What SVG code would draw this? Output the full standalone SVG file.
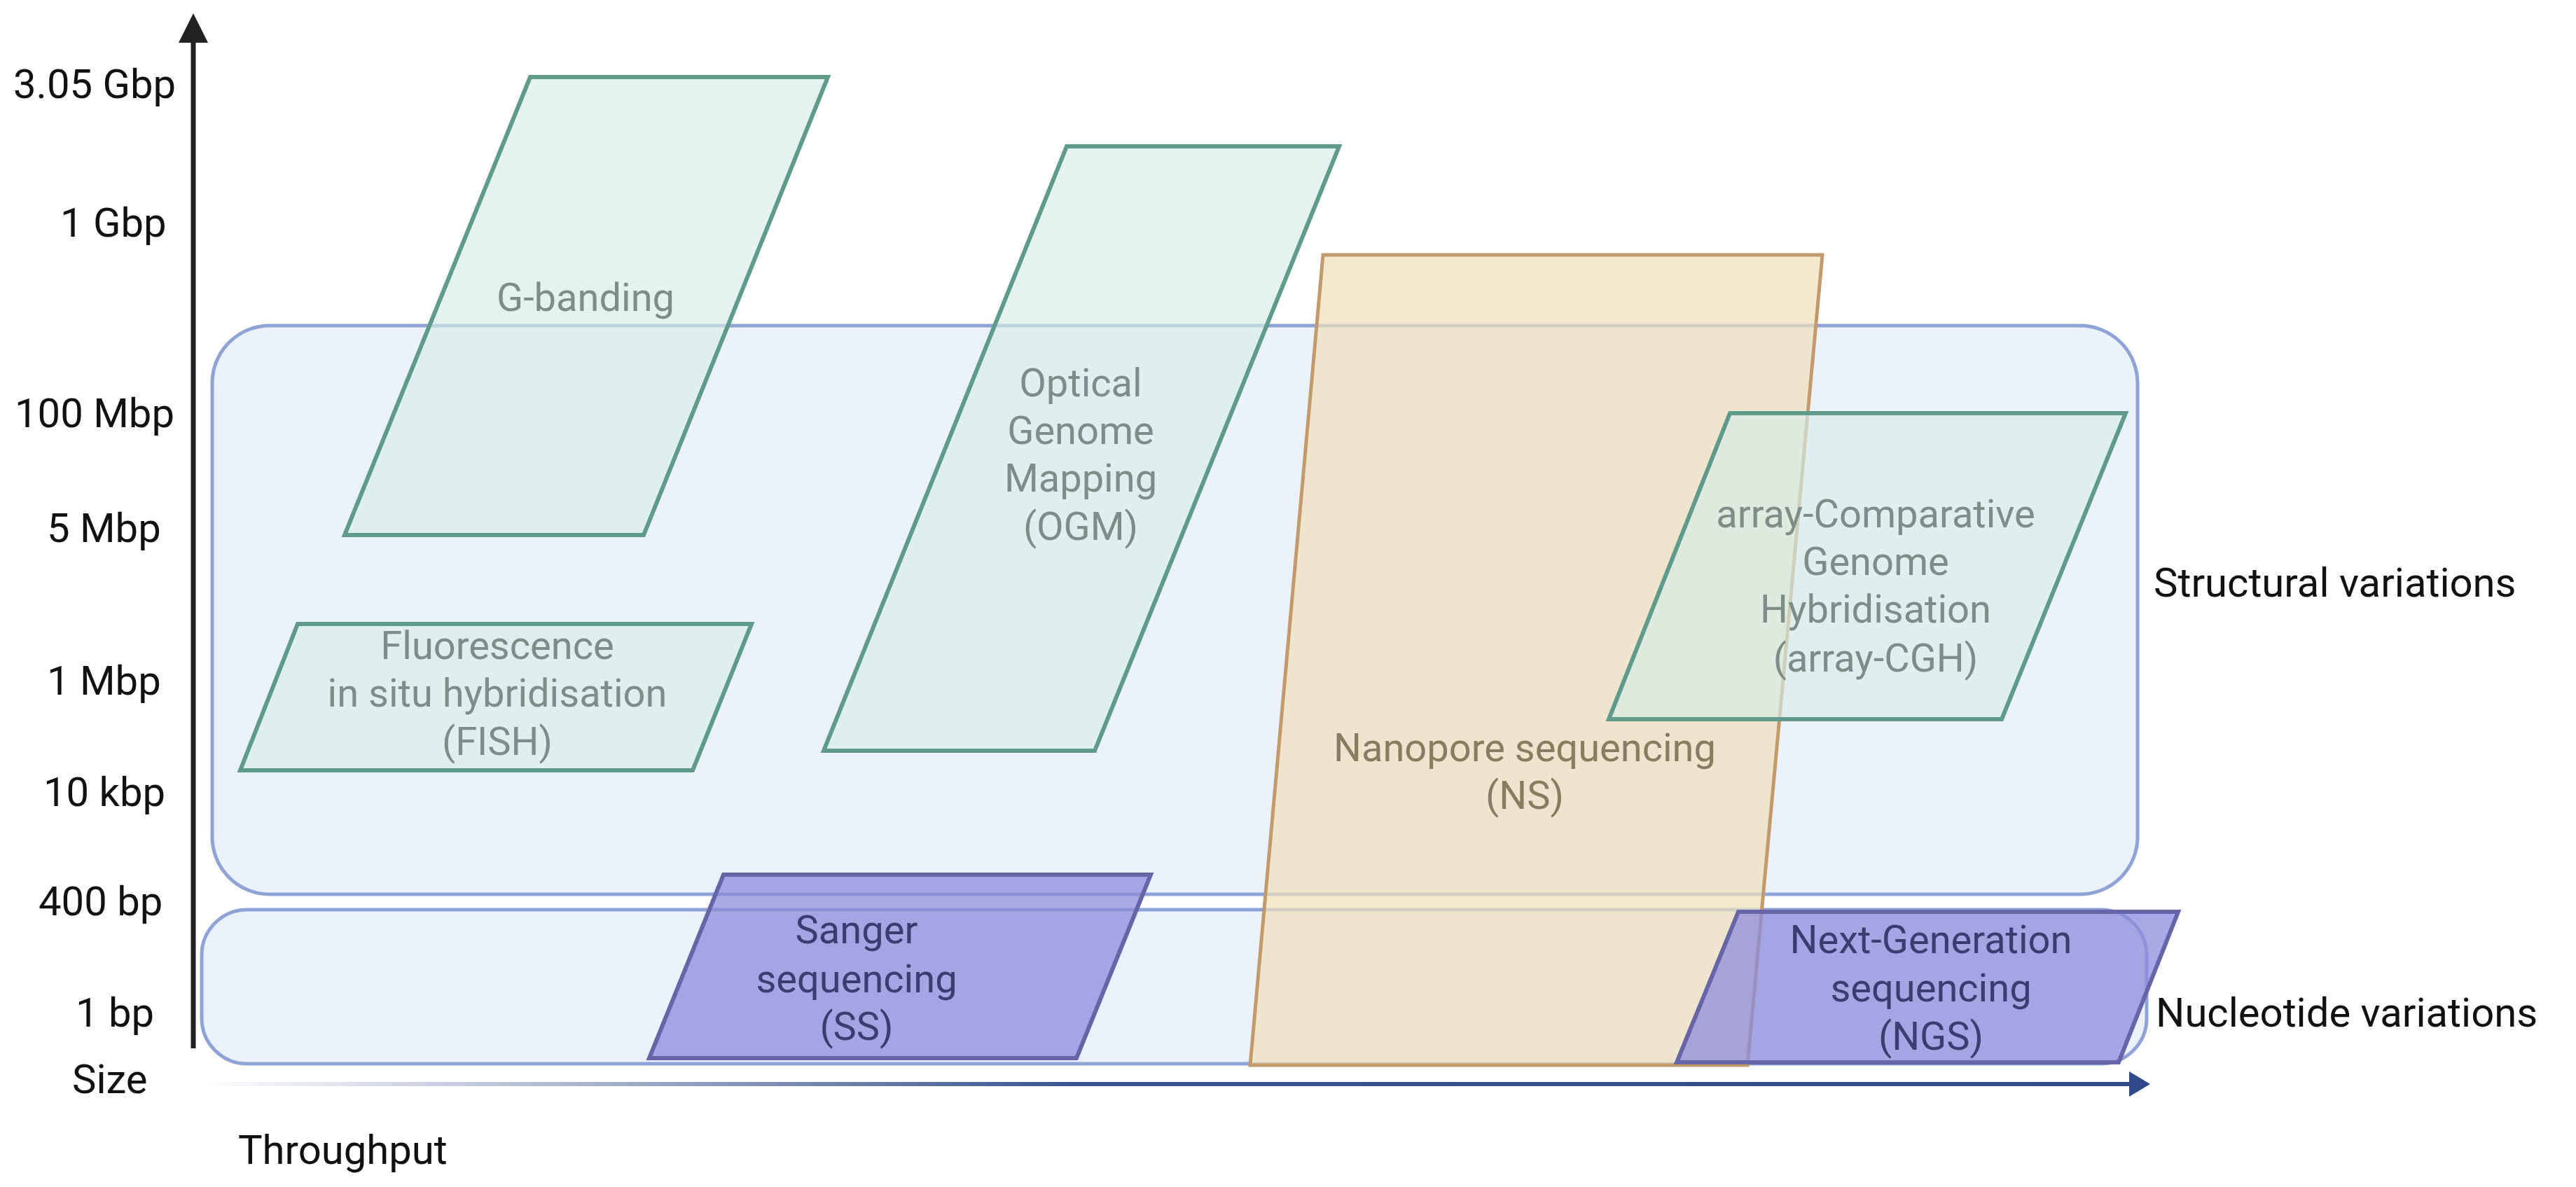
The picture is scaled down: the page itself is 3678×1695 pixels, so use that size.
<svg xmlns="http://www.w3.org/2000/svg" width="3678" height="1695" viewBox="0 0 3678 1695">
<style>
text{font-family:Roboto,"Liberation Sans",sans-serif;font-size:56px;text-anchor:middle}
.ax{fill:#111;text-anchor:start;font-size:58px}
.g{fill:#d5ece6;fill-opacity:0.65;stroke:#5f9a8a;stroke-width:6}
.gt{fill:#7d8d88}
.box{fill:#dfe9f8;fill-opacity:0.6;stroke:#8ea3d6;stroke-width:5}
.p{fill:#8c8cdc;fill-opacity:0.75;stroke:#6565a8;stroke-width:6}
.pt{fill:#3c3c70}
.n{fill:#efe0b8;fill-opacity:0.7;stroke:#c39a6c;stroke-width:5}
.nt{fill:#8a7c62}
</style>
<defs>
<linearGradient id="xg" gradientUnits="userSpaceOnUse" x1="288" y1="0" x2="3045" y2="0"><stop offset="0" stop-color="#3a5590" stop-opacity="0"/><stop offset="0.45" stop-color="#3a5590"/><stop offset="1" stop-color="#2e4a88"/></linearGradient>
<marker id="ay" markerWidth="6" markerHeight="6" refX="3" refY="3" orient="auto" markerUnits="strokeWidth"><path d="M0,0 L6,3 L0,6 z" fill="#222"/></marker>
</defs>
<g id="structural"><rect class="box" x="303" y="465" width="2749" height="812" rx="82"/><text class="ax" x="3075" y="852">Structural variations</text></g>
<g id="nucleotide"><rect class="box" x="288" y="1299" width="2777" height="220" rx="65"/><text class="ax" x="3078" y="1466">Nucleotide variations</text></g>
<g id="connectors">
<line x1="276" y1="1497" x2="276" y2="40" stroke="#222" stroke-width="7" marker-end="url(#ay)"/>
<rect x="288" y="1545" width="2757" height="6" fill="url(#xg)"/>
<path d="M3040,1530 L3070,1548 L3040,1566 z" fill="#2e4a88"/>
</g>
<g id="axis-labels">
<text class="ax" x="19" y="140">3.05 Gbp</text>
<text class="ax" x="86" y="338">1 Gbp</text>
<text class="ax" x="21" y="610">100 Mbp</text>
<text class="ax" x="67" y="774">5 Mbp</text>
<text class="ax" x="67" y="992">1 Mbp</text>
<text class="ax" x="62" y="1151">10 kbp</text>
<text class="ax" x="55" y="1307">400 bp</text>
<text class="ax" x="108" y="1466">1 bp</text>
<text class="ax" x="103" y="1561">Size</text>
<text class="ax" x="340" y="1662">Throughput</text>
</g>
<g id="gbanding"><polygon class="g" points="757,110 1182,110 919,764 492,764"/><text class="gt" x="836" y="444">G-banding</text></g>
<g id="ogm"><polygon class="g" points="1523,209 1912,209 1563,1072 1176,1072"/><text class="gt" x="1543" y="566">Optical</text><text class="gt" x="1543" y="634">Genome</text><text class="gt" x="1543" y="702">Mapping</text><text class="gt" x="1543" y="771">(OGM)</text></g>
<g id="fish"><polygon class="g" points="425,891 1073,891 989,1100 343,1100"/><text class="gt" x="710" y="941">Fluorescence</text><text class="gt" x="710" y="1009">in situ hybridisation</text><text class="gt" x="710" y="1078">(FISH)</text></g>
<g id="sanger"><polygon class="p" points="1033,1249 1643,1249 1537,1511 927,1511"/><text class="pt" x="1223" y="1347">Sanger</text><text class="pt" x="1223" y="1417">sequencing</text><text class="pt" x="1223" y="1485">(SS)</text></g>
<g id="nanopore"><polygon class="n" points="1889,364 2602,364 2495,1521 1785,1521"/><text class="nt" x="2177" y="1087">Nanopore sequencing</text><text class="nt" x="2177" y="1155">(NS)</text></g>
<g id="acgh"><polygon class="g" points="2470,590 3035,590 2858,1027 2297,1027"/><text class="gt" x="2678" y="753">array-Comparative</text><text class="gt" x="2678" y="821">Genome</text><text class="gt" x="2678" y="889">Hybridisation</text><text class="gt" x="2678" y="959">(array-CGH)</text></g>
<g id="ngs"><polygon class="p" points="2482,1302 3110,1302 3025,1517 2394,1517"/><text class="pt" x="2757" y="1361">Next-Generation</text><text class="pt" x="2757" y="1430">sequencing</text><text class="pt" x="2757" y="1499">(NGS)</text></g>
</svg>
